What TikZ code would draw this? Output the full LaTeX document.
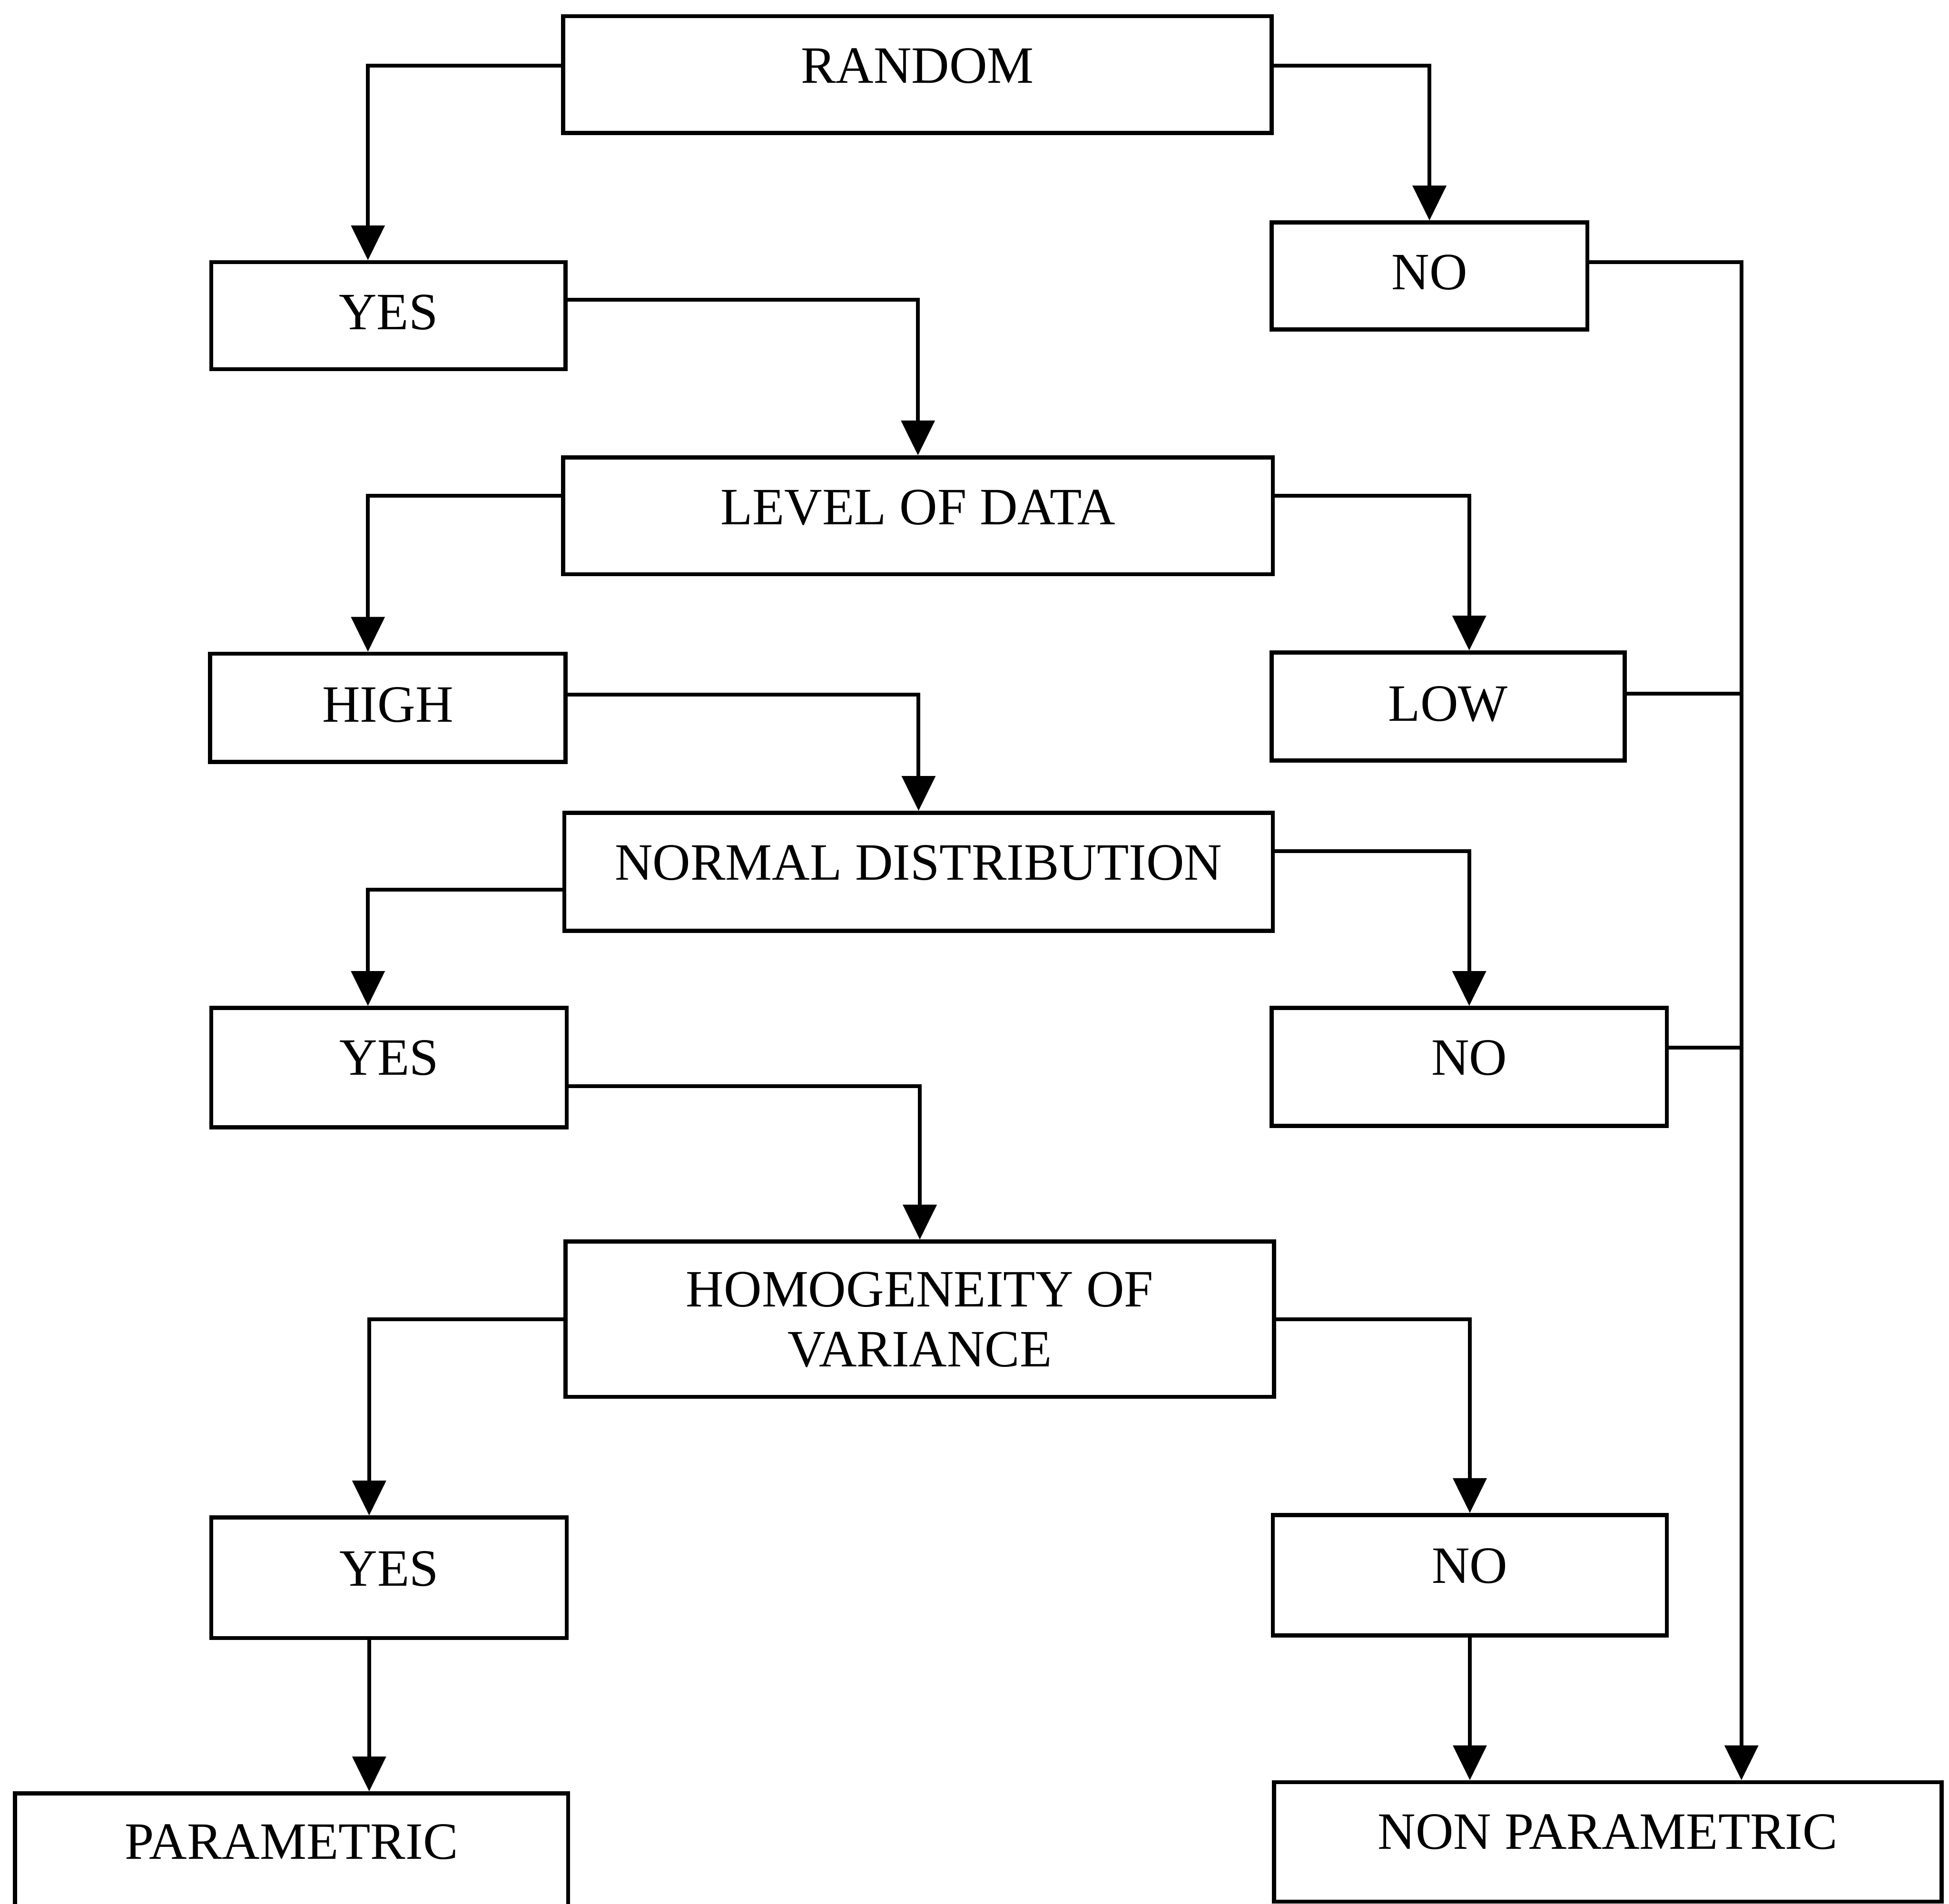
\documentclass[tikz,border=0pt]{standalone}
\usepackage{fontspec}
\setmainfont{Liberation Serif}
\usetikzlibrary{arrows.meta}
\begin{document}
\begin{tikzpicture}[x=0.03cm,y=-0.03cm,
  box/.style={draw, line width=2.8pt, rectangle, inner sep=0pt, fill=white,
              align=center, font=\fontsize{36}{41}\selectfont},
  link/.style={line width=2.6pt},
  arr/.style={link, -{Triangle[length=0.84cm,width=0.8cm]}}]
\useasboundingbox (0,0) rectangle (1568,1532);
\clip (0,0) rectangle (1568,1532);
% box: name, left, top, right, bottom, text raise, label
\newcommand\flowbox[7]{%
  \node[box, minimum width={(#4-#2)*0.03cm}, minimum height={(#5-#3)*0.03cm},
        text depth={2*#6*0.03cm}] (#1) at ({(#2+#4)/2},{(#3+#5)/2}) {#7};}

\flowbox{random}{453}{13}{1023}{107}{7}{RANDOM}
\flowbox{yes1}{170}{211}{455}{297}{3}{YES}
\flowbox{no1}{1023}{179}{1277}{265}{3}{NO}
\flowbox{level}{453}{368}{1024}{462}{7}{LEVEL OF DATA}
\flowbox{high}{169}{526}{455}{613}{2.5}{HIGH}
\flowbox{low}{1023}{525}{1307}{612}{2.5}{LOW}
\flowbox{normal}{454}{654}{1024}{749}{7.5}{NORMAL DISTRIBUTION}
\flowbox{yes2}{170}{811}{456}{907}{8}{YES}
\flowbox{no2}{1023}{811}{1341}{906}{7.5}{NO}
\flowbox{homog}{455}{999}{1025}{1124}{0}{HOMOGENEITY OF\\VARIANCE}
\flowbox{yes3}{170}{1221}{456}{1318}{7.5}{YES}
\flowbox{no3}{1024}{1219}{1341}{1316}{7.5}{NO}
\flowbox{param}{12}{1443}{457}{1536}{7.5}{PARAMETRIC}
\flowbox{nonparam}{1025}{1434}{1562}{1530}{8}{NON PARAMETRIC}

% decision branches
\draw[arr] ([shift={(0,-7)}]random.west) -| ([shift={(-16.5,0)}]yes1.north);
\draw[arr] ([shift={(0,-7)}]random.east) -| (no1.north);
\draw[arr] ([shift={(0,-13)}]yes1.east) -| (level.north);
\draw[arr] ([shift={(0,-16)}]level.west) -| ([shift={(-16,0)}]high.north);
\draw[arr] ([shift={(0,-16)}]level.east) -| ([shift={(17,0)}]low.north);
\draw[arr] ([shift={(0,-10.5)}]high.east) -| (normal.north);
\draw[arr] ([shift={(0,14.5)}]normal.west) -| ([shift={(-17,0)}]yes2.north);
\draw[arr] ([shift={(0,-16.5)}]normal.east) -| (no2.north);
\draw[arr] ([shift={(0,15)}]yes2.east) -| (homog.north);
\draw[arr] (homog.west) -| ([shift={(-16,0)}]yes3.north);
\draw[arr] (homog.east) -| (no3.north);

% outcomes
\coordinate (pdrop) at ([shift={(-16,0)}]yes3.south);
\draw[arr] (pdrop) -- (pdrop |- param.north);
\draw[arr] (no3.south) -- (no3.south |- nonparam.north);

% collecting line on the right
\coordinate (trunk) at ([shift={(107.5,0)}]nonparam.north);
\draw[arr] ([shift={(0,-11)}]no1.east) -| (trunk);
\coordinate (lowR) at ([shift={(0,-10.5)}]low.east);
\draw[link] (lowR) -- (lowR -| trunk);
\coordinate (noR) at ([shift={(0,-15.5)}]no2.east);
\draw[link] (noR) -- (noR -| trunk);
\end{tikzpicture}
\end{document}
